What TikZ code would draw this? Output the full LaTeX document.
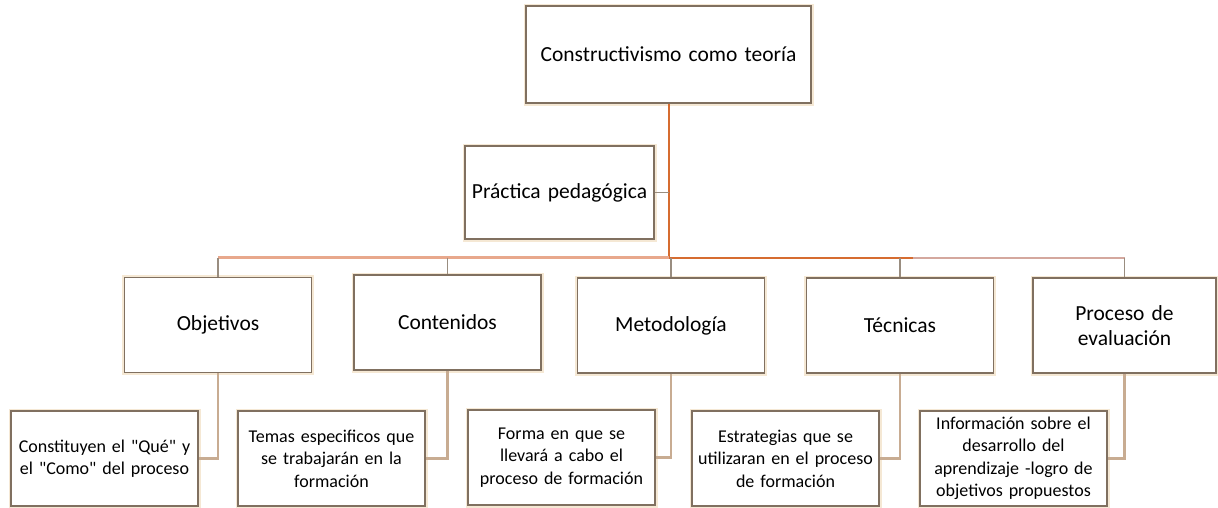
\documentclass[tikz,border=0pt]{standalone}
\usepackage{fontspec}
\setmainfont{Carlito}
\definecolor{boxline}{RGB}{128, 112, 96}
\definecolor{boxglow}{RGB}{245, 232, 212}
\definecolor{busorange}{RGB}{214, 108, 48}
\definecolor{bussalmon}{RGB}{232, 168, 140}
\definecolor{buspink}{RGB}{212, 168, 158}
\definecolor{droptan}{RGB}{200, 172, 146}
\usetikzlibrary{positioning, calc}

\begin{document}
\begin{tikzpicture}[x=1pt, y=-1pt,
    mainbox/.style={draw=boxline, line width=1.3pt, fill=white, preaction={draw=boxglow, line width=5pt},
      minimum width=187pt, minimum height=95pt, text width=184pt, inner sep=1pt, align=center,
      font=\fontsize{21.5}{25}\selectfont},
    childbox/.style={mainbox, font=\fontsize{18}{22.5}\selectfont},
    stem/.style={draw=boxline!80, line width=1.5pt},
    twig/.style={draw=droptan, line width=2.4pt}]
  \useasboundingbox (0,0) rectangle (1218,507);
  \node[mainbox, minimum width=285pt, minimum height=97pt, text width=280pt] (teoria) at (668.5,54.5) {Constructivismo como teoría};
  \node[mainbox, minimum width=189pt, minimum height=93pt] (practica) at (559.5,192.5) {Práctica pedagógica};

  \node[mainbox] (objetivos) at (218,325) {Objetivos};
  \node[mainbox] (contenidos) at (447.5,322.5) {Contenidos};
  \node[mainbox] (metodologia) at (671,325.5) {Metodología};
  \node[mainbox] (tecnicas) at (900,325.5) {Técnicas};
  \node[mainbox, minimum width=183pt, text width=180pt] (evaluacion) at (1124.5,325.5) {Proceso de\\evaluación};

  \node[childbox] (que) at (104.5,458.5) {Constituyen el \textquotedbl Qué\textquotedbl{} y\\el \textquotedbl Como\textquotedbl{} del proceso};
  \node[childbox] (temas) at (331.5,458.5) {Temas especificos que\\se trabajarán en la\\formación};
  \node[childbox] (forma) at (561.5,457.5) {Forma en que se\\llevará a cabo el\\proceso de formación};
  \node[childbox] (estrategias) at (785.5,458.5) {Estrategias que se\\utilizaran en el proceso\\de formación};
  \node[childbox] (informacion) at (1013.5,458.5) {Información sobre el\\desarrollo del\\aprendizaje -logro de\\objetivos propuestos};

  \coordinate (bus) at (669,257.5);
  \coordinate (bend) at (913,257.5);
  \draw[draw=busorange, line width=2pt] (teoria.south -| bus) -- (bus) -- (bend);
  \draw[draw=buspink, line width=2pt] (bend) -- (bend -| evaluacion.north);
  \draw[draw=bussalmon, line width=2.4pt] (bus) -- (bus -| objetivos.north);
  \draw[stem] (practica.east) -- (practica.east -| bus);
  \foreach \n in {objetivos, contenidos, metodologia, tecnicas, evaluacion}
    \draw[stem] (bus -| \n.north) -- (\n.north);
  \draw[twig] (objetivos.south) |- (que.east);
  \draw[twig] (contenidos.south) |- (temas.east);
  \draw[twig] (metodologia.south) |- (forma.east);
  \draw[twig] (tecnicas.south) |- (estrategias.east);
  \draw[twig] (evaluacion.south) |- (informacion.east);
\end{tikzpicture}
\end{document}
